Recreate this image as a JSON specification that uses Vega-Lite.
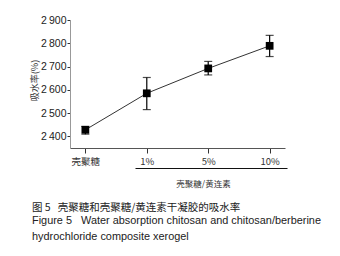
{
  "$schema": "https://vega.github.io/schema/vega-lite/v6.json",
  "autosize": "none",
  "width": 215,
  "height": 128,
  "padding": {"left": 70, "top": 20, "right": 55, "bottom": 108},
  "background": "white",
  "config": {
    "view": {"stroke": null},
    "font": "Liberation Sans",
    "axis": {"grid": false, "labelFont": "Liberation Sans", "titleFont": "Noto Sans CJK SC", "labelColor": "#222", "titleColor": "#333", "tickColor": "#333", "domainColor": "#777"},
    "axisY": {"values": [2400, 2500, 2600, 2700, 2800, 2900], "labelOverlap": false, "labelFontSize": 10.5, "tickSize": 3, "labelPadding": 1, "titleFontSize": 9, "titleFontWeight": "normal", "titlePadding": 1, "domainColor": "#999"}
  },
  "title": {
    "text": "图 5\u00a0\u00a0\u00a0壳聚糖和壳聚糖/黄连素干凝胶的吸水率",
    "subtitle": ["Figure 5\u00a0\u00a0\u00a0Water absorption chitosan and chitosan/berberine", "hydrochloride composite xerogel"],
    "orient": "bottom",
    "anchor": "start",
    "frame": "group",
    "dx": -38,
    "offset": 15,
    "font": "Noto Sans CJK SC",
    "fontSize": 10.5,
    "fontWeight": "normal",
    "color": "#222",
    "subtitleFont": "Liberation Sans",
    "subtitleFontSize": 10.9,
    "subtitleColor": "#222",
    "subtitlePadding": 2,
    "subtitleLineHeight": 16
  },
  "data": {
    "values": [
      {"sample": "壳聚糖", "mean": 2428, "lo": 2409, "hi": 2443},
      {"sample": "1%", "mean": 2585, "lo": 2515, "hi": 2653},
      {"sample": "5%", "mean": 2692, "lo": 2664, "hi": 2722},
      {"sample": "10%", "mean": 2789, "lo": 2743, "hi": 2834}
    ]
  },
  "layer": [
    {
      "layer": [
        {
          "mark": {"type": "line", "color": "#333", "strokeWidth": 1},
          "encoding": {
            "x": {"field": "sample", "type": "ordinal", "sort": null,
              "scale": {"type": "point", "padding": 0.25},
              "axis": {"title": null, "labelAngle": 0, "labelFontSize": 9.5, "labelFont": "Noto Sans CJK SC", "labelPadding": 3, "tickSize": 5, "domainColor": "#555", "labelColor": "#333"}},
            "y": {"field": "mean", "type": "quantitative", "title": "吸水率(%)",
              "scale": {"domain": [2350, 2900], "nice": false, "zero": false},
              "axis": {"values": [2400, 2500, 2600, 2700, 2800, 2900], "labelExpr": "replace(format(datum.value, ','), ',', '\u2009')", "titleY": 60}}
          }
        },
        {
          "mark": {"type": "rule", "color": "#000", "strokeWidth": 1.2},
          "encoding": {
            "x": {"field": "sample", "type": "ordinal", "sort": null},
            "y": {"field": "lo", "type": "quantitative", "title": "吸水率(%)",
              "axis": {"values": [2400, 2500, 2600, 2700, 2800, 2900], "labelExpr": "replace(format(datum.value, ','), ',', '\u2009')", "titleY": 60}},
            "y2": {"field": "hi"}
          }
        },
        {
          "mark": {"type": "tick", "orient": "horizontal", "color": "#000", "size": 8, "thickness": 1.2},
          "encoding": {
            "x": {"field": "sample", "type": "ordinal", "sort": null},
            "y": {"field": "lo", "type": "quantitative", "title": "吸水率(%)",
              "axis": {"values": [2400, 2500, 2600, 2700, 2800, 2900], "labelExpr": "replace(format(datum.value, ','), ',', '\u2009')", "titleY": 60}}
          }
        },
        {
          "mark": {"type": "tick", "orient": "horizontal", "color": "#000", "size": 8, "thickness": 1.2},
          "encoding": {
            "x": {"field": "sample", "type": "ordinal", "sort": null},
            "y": {"field": "hi", "type": "quantitative", "title": "吸水率(%)",
              "axis": {"values": [2400, 2500, 2600, 2700, 2800, 2900], "labelExpr": "replace(format(datum.value, ','), ',', '\u2009')", "titleY": 60}}
          }
        },
        {
          "mark": {"type": "square", "color": "#000", "size": 60, "opacity": 1},
          "encoding": {
            "x": {"field": "sample", "type": "ordinal", "sort": null},
            "y": {"field": "mean", "type": "quantitative", "title": "吸水率(%)",
              "axis": {"values": [2400, 2500, 2600, 2700, 2800, 2900], "labelExpr": "replace(format(datum.value, ','), ',', '\u2009')", "titleY": 60}}
          }
        }
      ]
    },
    {
      "transform": [{"filter": "datum.sample !== '壳聚糖'"}],
      "mark": {"type": "rule", "opacity": 0},
      "encoding": {
        "x": {"field": "sample", "type": "ordinal", "sort": null,
          "scale": {"type": "point", "range": [65, 217], "padding": 0.25},
          "axis": {"orient": "bottom", "offset": 20, "title": "壳聚糖/黄连素", "labels": false, "ticks": false, "domainColor": "#111", "domainWidth": 1.2, "titleFontSize": 8.5, "titleFontWeight": "normal", "titlePadding": 11, "titleX": 133, "titleColor": "#333"}}
      }
    }
  ],
  "resolve": {"scale": {"x": "independent"}, "axis": {"x": "independent"}}
}
